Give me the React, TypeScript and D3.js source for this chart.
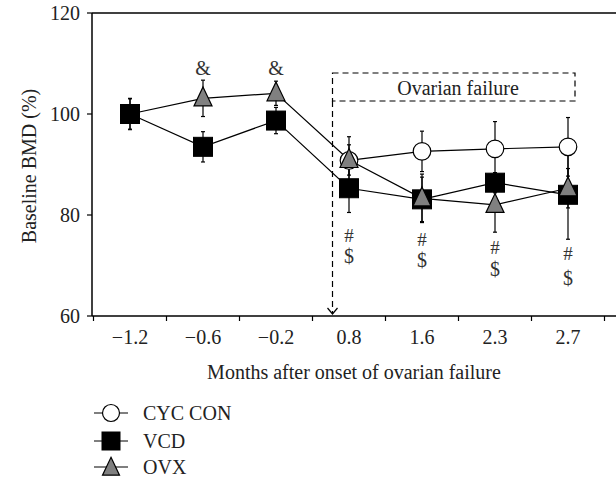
import React from "react";
import * as d3 from "d3";

const categories = ["-1.2", "-0.6", "-0.2", "0.8", "1.6", "2.3", "2.7"];
const tickLabels = ["\u22121.2", "\u22120.6", "\u22120.2", "0.8", "1.6", "2.3", "2.7"];
const yTicks = [60, 80, 100, 120];

const cycCats = ["0.8", "1.6", "2.3", "2.7"];
const cycValues = [90.8, 92.6, 93.1, 93.5];
const cycErr = [4.7, 4.0, 5.4, 5.8];

const vcdValues = [100, 93.5, 98.7, 85.3, 83.1, 86.4, 84.0];
const vcdErr = [3.1, 3.0, 2.6, 4.8, 4.4, 2.0, 8.8];

const ovxValues = [100, 103.1, 104.1, 90.9, 83.3, 82.0, 85.3];
const ovxErr = [3.0, 3.6, 2.4, 3.0, 4.8, 5.4, 3.9];

const ampCats = ["-0.6", "-0.2"];
const hashCats = ["0.8", "1.6", "2.3", "2.7"];
const hashValues = [76.0, 75.2, 73.6, 72.4];
const dollarValues = [71.8, 71.0, 69.4, 67.6];

const FONT = "'Liberation Serif', 'Times New Roman', serif";
const FS = 20;

export default function App() {
  const W = 616, H = 477;
  const x = d3.scalePoint<string>().domain(categories).range([130, 568]);
  const step = x.step();
  const y = d3.scaleLinear().domain([60, 120]).range([316, 13]);
  const left = 92, right = 616, top = y(120), bottom = y(60);

  const line = d3.line<[string, number]>().x(d => x(d[0])!).y(d => y(d[1]));

  const sq = 19;
  const circleR = 8.8;
  const tri = (cx: number, cy: number, s = 18) => {
    const h = s * 1.05;
    return `M${cx},${cy - h * 0.6}L${cx + s / 2},${cy + h * 0.4}L${cx - s / 2},${cy + h * 0.4}Z`;
  };

  const errBar = (cx: number, v: number, e: number, key: string) => (
    <g key={key} stroke="#000" strokeWidth={1.2}>
      <line x1={cx} x2={cx} y1={y(v + e)} y2={y(v - e)} />
      <line x1={cx - 2} x2={cx + 2} y1={y(v + e)} y2={y(v + e)} />
      <line x1={cx - 2} x2={cx + 2} y1={y(v - e)} y2={y(v - e)} />
    </g>
  );

  const tickXs = categories.map(c => x(c)! - step / 2).concat([x(categories[categories.length - 1])! + step / 2]);
  const failX = x("0.8")! - step / 2 + 20;
  const boxRight = x("2.7")! + 7;

  const legendItems = [
    { label: "CYC CON", type: "circle" },
    { label: "VCD", type: "square" },
    { label: "OVX", type: "tri" },
  ];
  const legendYs = [413, 441, 467];

  return (
    <svg width={W} height={H} style={{ position: "absolute", left: 0, top: 0, background: "#fff" }} fontFamily={FONT}>
      {/* frame */}
      <line x1={left} x2={right} y1={top} y2={top} stroke="#000" strokeWidth={1.5} />
      <line x1={left} x2={left} y1={top} y2={bottom} stroke="#000" strokeWidth={1.5} />
      <line x1={left} x2={right} y1={bottom} y2={bottom} stroke="#000" strokeWidth={1.5} />
      {yTicks.map(t => (
        <g key={"yt" + t}>
          <line x1={left - 5} x2={left} y1={y(t)} y2={y(t)} stroke="#000" strokeWidth={1.2} />
          <text x={left - 12} y={y(t)} dy="0.35em" textAnchor="end" fontSize={FS} fill="#222">{t}</text>
        </g>
      ))}
      {tickXs.map((tx, i) => (
        <line key={"xt" + i} x1={tx} x2={tx} y1={bottom} y2={bottom + 5} stroke="#000" strokeWidth={1.2} />
      ))}
      {categories.map((c, i) => (
        <text key={"xl" + c} x={x(c)!} y={337} dy="0.35em" textAnchor="middle" fontSize={FS} fill="#222">{tickLabels[i]}</text>
      ))}
      <text x={354} y={372} dy="0.35em" textAnchor="middle" fontSize={FS} fill="#222">Months after onset of ovarian failure</text>
      <text transform={`translate(29,166) rotate(-90)`} textAnchor="middle" dy="0.35em" fontSize={FS} fill="#222">Baseline BMD (%)</text>

      {/* ovarian failure box */}
      <rect x={failX} y={73} width={boxRight - failX} height={28} fill="none" stroke="#000" strokeWidth={1.2} strokeDasharray="6,4" />
      <line x1={failX} x2={failX} y1={101} y2={bottom - 2} stroke="#000" strokeWidth={1.2} strokeDasharray="6,4" />
      <path d={`M${failX - 5},${bottom - 8}L${failX},${bottom - 2}L${failX + 5},${bottom - 8}`} fill="none" stroke="#000" strokeWidth={1.2} />
      <text x={458} y={88} dy="0.35em" textAnchor="middle" fontSize={FS} fill="#222">Ovarian failure</text>

      {/* lines */}
      <path d={line(cycCats.map((c, i) => [c, cycValues[i]] as [string, number]))!} fill="none" stroke="#000" strokeWidth={1.2} />
      <path d={line(categories.map((c, i) => [c, vcdValues[i]] as [string, number]))!} fill="none" stroke="#000" strokeWidth={1.2} />
      <path d={line(categories.map((c, i) => [c, ovxValues[i]] as [string, number]))!} fill="none" stroke="#000" strokeWidth={1.2} />

      {/* error bars */}
      {cycCats.map((c, i) => errBar(x(c)!, cycValues[i], cycErr[i], "ce" + i))}
      {categories.map((c, i) => errBar(x(c)!, vcdValues[i], vcdErr[i], "ve" + i))}
      {categories.map((c, i) => errBar(x(c)!, ovxValues[i], ovxErr[i], "oe" + i))}

      {/* markers */}
      {cycCats.map((c, i) => (
        <circle key={"cm" + i} cx={x(c)!} cy={y(cycValues[i])} r={circleR} fill="#fff" stroke="#000" strokeWidth={1.2} />
      ))}
      {categories.map((c, i) => (
        <rect key={"vm" + i} x={x(c)! - sq / 2} y={y(vcdValues[i]) - sq / 2} width={sq} height={sq} fill="#000" stroke="#000" strokeWidth={1} />
      ))}
      {categories.map((c, i) => i === 0 ? null : (
        <path key={"om" + i} d={tri(x(c)!, y(ovxValues[i]))} fill="#808080" stroke="#000" strokeWidth={1.2} />
      ))}

      {/* annotations */}
      {ampCats.map(c => (
        <text key={"amp" + c} x={x(c)!} y={68} dy="0.35em" textAnchor="middle" fontSize={FS} fill="#333">&amp;</text>
      ))}
      {hashCats.map((c, i) => (
        <g key={"hd" + c}>
          <text x={x(c)!} y={y(hashValues[i])} dy="0.35em" textAnchor="middle" fontSize={19} fill="#333">#</text>
          <text x={x(c)!} y={y(dollarValues[i])} dy="0.35em" textAnchor="middle" fontSize={FS} fill="#333">$</text>
        </g>
      ))}

      {/* legend */}
      {legendItems.map((it, i) => {
        const ly = legendYs[i];
        const cx = 111;
        return (
          <g key={"lg" + i}>
            <line x1={94} x2={128} y1={ly} y2={ly} stroke="#000" strokeWidth={1.2} />
            {it.type === "circle" && <circle cx={cx} cy={ly} r={8.5} fill="#fff" stroke="#000" strokeWidth={1.2} />}
            {it.type === "square" && <rect x={cx - 9.5} y={ly - 9.5} width={19} height={19} fill="#000" />}
            {it.type === "tri" && <path d={tri(cx, ly + 1, 17)} fill="#808080" stroke="#000" strokeWidth={1.2} />}
            <text x={143} y={ly} dy="0.35em" fontSize={FS} fill="#222">{it.label}</text>
          </g>
        );
      })}
    </svg>
  );
}
